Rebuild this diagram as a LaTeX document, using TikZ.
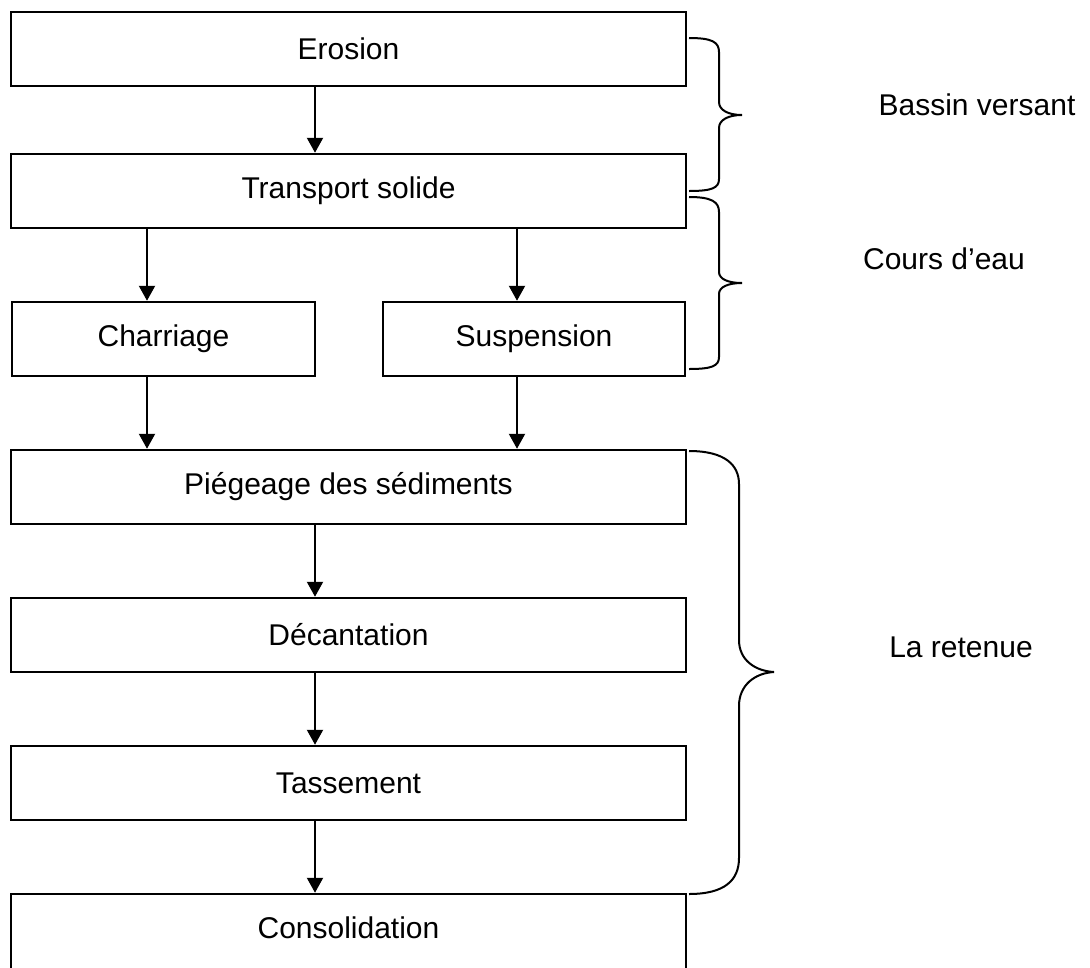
\documentclass[tikz,border=0pt]{standalone}
\usepackage{fontspec}
\setmainfont{Liberation Sans}
\usetikzlibrary{arrows.meta}
\begin{document}
\begin{tikzpicture}[x=1pt,y=-1pt,
  box/.style={draw,line width=2.5pt,rectangle,inner sep=0pt,align=center,
    minimum height=74pt},
  wide/.style={box,minimum width=675pt},
  arr/.style={line width=2.1pt,-{Triangle[length=15pt,width=16pt]}},
  brace/.style={line width=2pt},
  txt/.style={font=\fontsize{30}{36}\selectfont}]
\clip (0,0) rectangle (1090,967);
\useasboundingbox (0,0) rectangle (1090,967);
\begin{scope}[every node/.append style={txt}]
% process boxes
\node[wide] (ero) at (348.5,49) {Erosion};
\node[wide] (tra) at (348.5,191) {Transport solide};
\node[box,minimum width=303pt] (cha) at (163.5,339) {Charriage};
\node[box,minimum width=302pt] (sus) at (534,339) {Suspension};
\node[wide] (pie) at (348.5,487) {Piégeage des sédiments};
\node[wide] (dec) at (348.5,635) {Décantation};
\node[wide] (tas) at (348.5,783) {Tassement};
\node[box,minimum width=675pt,minimum height=0pt,text height=44pt,text depth=42pt,anchor=base] (con) at (348.5,938) {Consolidation};
% side labels
\node (bv) at (977,105) {Bassin versant};
\node (ce) at (944,259) {Cours d’eau};
\node (lr) at (961,647) {La retenue};
\end{scope}
% arrow columns
\coordinate (mc) at (315,0);
\coordinate (lc) at (147,0);
\coordinate (rc) at (517,0);
\draw[arr] (ero.south -| mc) -- (tra.north -| mc);
\draw[arr] (tra.south -| lc) -- (cha.north -| lc);
\draw[arr] (tra.south -| rc) -- (sus.north -| rc);
\draw[arr] (cha.south -| lc) -- (pie.north -| lc);
\draw[arr] (sus.south -| rc) -- (pie.north -| rc);
\draw[arr] (pie.south -| mc) -- (dec.north -| mc);
\draw[arr] (dec.south -| mc) -- (tas.north -| mc);
\draw[arr] (tas.south -| mc) -- (con.north -| mc);
% braces
\draw[brace] (689,38) .. controls (712,38) and (719,42) .. (719,52) -- (719,102)
  .. controls (719,110) and (728,115) .. (742,115)
  .. controls (728,115) and (719,120) .. (719,128) -- (719,179)
  .. controls (719,188) and (712,191) .. (689,191);
\draw[brace] (689,197) .. controls (712,197) and (719,202) .. (719,212) -- (719,272)
  .. controls (719,279) and (728,283) .. (742,283)
  .. controls (728,283) and (719,287) .. (719,294) -- (719,357)
  .. controls (719,366) and (712,369) .. (689,369);
\draw[brace] (689,451) .. controls (725,451) and (739,465) .. (739,484) -- (739,640)
  .. controls (739,660) and (755,671) .. (774,672)
  .. controls (755,673) and (739,685) .. (739,706) -- (739,858)
  .. controls (739,880) and (725,894) .. (689,894);
\end{tikzpicture}
\end{document}
